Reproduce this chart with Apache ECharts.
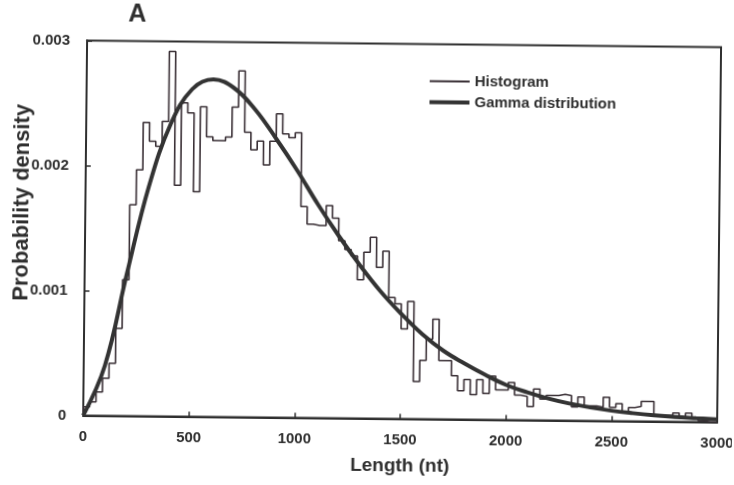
<!DOCTYPE html>
<html>
<head>
<meta charset="utf-8">
<script src="https://cdn.jsdelivr.net/npm/echarts@6/dist/echarts.min.js"></script>
<style>
  html, body { margin: 0; padding: 0; background: #ffffff; }
  #chart { width: 734px; height: 485px; transform: rotate(0.6deg); transform-origin: 50% 50%; }
</style>
</head>
<body>
<div id="chart"></div>
<script>
// Read-length histogram (probability density per 30-nt bin, starting at 0 nt)
const binWidth = 30;
const histogramDensity = [
  0.00007, 0.00011, 0.00019, 0.00030, 0.00042, 0.00070, 0.00109, 0.00169, 0.00197, 0.00235,
  0.00220, 0.00216, 0.00236, 0.00292, 0.00185, 0.00251, 0.00243, 0.00180, 0.00248, 0.00224,
  0.00221, 0.00221, 0.00224, 0.00248, 0.00277, 0.00228, 0.00214, 0.00221, 0.00202, 0.00221,
  0.00243, 0.00227, 0.00224, 0.00228, 0.00169, 0.00155, 0.00154, 0.00154, 0.00170, 0.00160,
  0.00142, 0.00135, 0.00130, 0.00111, 0.00133, 0.00145, 0.00121, 0.00134, 0.00097, 0.00092,
  0.00072, 0.00094, 0.00030, 0.00047, 0.00064, 0.00080, 0.00047, 0.00047, 0.00035, 0.00023,
  0.00032, 0.00020, 0.00032, 0.00021, 0.00035, 0.00024, 0.00024, 0.00030, 0.00020, 0.00019,
  0.00011, 0.00025, 0.00017, 0.00020, 0.00020, 0.00021, 0.00020, 0.00011, 0.00019, 0.00012,
  0.00012, 0.00011, 0.00019, 0.00011, 0.00014, 0.00007, 0.00011, 0.00012, 0.00016, 0.00016,
  0.00005, 0.00005, 0.00005, 0.00007, 0.00003, 0.00007, 0.00003, 0.00001, 0, 0
];

// Fitted gamma distribution, sampled along the length axis
const gammaLength = [
  0, 100, 200, 300, 400, 500, 600, 700, 800, 900, 1000, 1100, 1200, 1300, 1400, 1500,
  1600, 1700, 1800, 1900, 2000, 2100, 2200, 2300, 2400, 2500, 2600, 2700, 2800, 2900, 3000
];
const gammaDensity = [
  0, 0.00040, 0.00114, 0.00184, 0.00234, 0.00262, 0.00270, 0.00263, 0.00246, 0.00223,
  0.00198, 0.00171, 0.00146, 0.00123, 0.00102, 0.00084, 0.00068, 0.00055, 0.00045, 0.00036,
  0.00028, 0.000223, 0.000175, 0.000137, 0.000107, 0.000083, 0.000065, 0.00005, 0.000038,
  0.00003, 0.000023
];

const xTicks = [0, 500, 1000, 1500, 2000, 2500, 3000];
const yTicks = [0, 0.001, 0.002, 0.003];

// Step outline of the histogram: each bin drawn flat from its left edge
const histPoints = [[0, 0]];
histogramDensity.forEach((v, i) => histPoints.push([i * binWidth, v]));
histPoints.push([histogramDensity.length * binWidth, 0]);

const gammaPoints = gammaLength.map((x, i) => [x, gammaDensity[i]]);

const ink = '#2f2f2f';
const histInk = '#3a3036';
const font = '"Liberation Sans", Arial, Helvetica, sans-serif';
const legendText = { fontFamily: font, fontWeight: 'bold', fontSize: 15, color: ink };

const chart = echarts.init(document.getElementById('chart'), null, { renderer: 'canvas' });
chart.setOption({
  backgroundColor: '#ffffff',
  animation: false,
  grid: {
    left: 85, right: 15, top: 43.5, bottom: 66.5,
    outerBoundsMode: 'none',
    show: true, borderColor: ink, borderWidth: 2, backgroundColor: 'transparent'
  },
  graphic: [
    {
      type: 'text', left: 126, top: 5,
      style: { text: 'A', font: 'bold 25px ' + font, fill: ink }
    },
    {
      type: 'text', x: 22, y: 206, rotation: Math.PI / 2,
      style: {
        text: 'Probability density', font: 'bold 22px ' + font, fill: ink,
        align: 'center', verticalAlign: 'middle'
      }
    }
  ],
  legend: [
    {
      left: 428, top: 73, padding: 0, icon: 'rect', itemWidth: 40, itemHeight: 2, itemGap: 6,
      textStyle: legendText, data: [{ name: 'Histogram', itemStyle: { color: histInk } }]
    },
    {
      left: 428, top: 94, padding: 0, icon: 'rect', itemWidth: 40, itemHeight: 4, itemGap: 6,
      textStyle: legendText, data: [{ name: 'Gamma distribution', itemStyle: { color: '#333333' } }]
    }
  ],
  xAxis: {
    type: 'value', min: xTicks[0], max: xTicks[xTicks.length - 1], interval: 500,
    name: 'Length (nt)', nameLocation: 'middle', nameGap: 38,
    nameTextStyle: { fontFamily: font, fontWeight: 'bold', fontSize: 19, color: ink },
    axisLine: { show: true, lineStyle: { color: ink, width: 2 } },
    axisTick: { show: true, inside: true, length: 5, lineStyle: { color: ink, width: 1.5 } },
    axisLabel: {
      margin: 14, fontFamily: font, fontWeight: 'bold', fontSize: 15, color: ink,
      formatter: v => String(v)
    },
    splitLine: { show: false }
  },
  yAxis: {
    type: 'value', min: yTicks[0], max: yTicks[yTicks.length - 1], interval: 0.001,
    axisLine: { show: true, lineStyle: { color: ink, width: 2 } },
    axisTick: { show: true, inside: true, length: 5, lineStyle: { color: ink, width: 1.5 } },
    axisLabel: {
      margin: 17, fontFamily: font, fontWeight: 'bold', fontSize: 15, color: ink,
      formatter: v => (v === 0 ? '0' : v.toFixed(3))
    },
    splitLine: { show: false }
  },
  series: [
    {
      name: 'Histogram', type: 'line', step: 'end', data: histPoints,
      symbol: 'none', lineStyle: { color: histInk, width: 1.6 }, itemStyle: { color: histInk },
      z: 2
    },
    {
      name: 'Gamma distribution', type: 'line', smooth: 0.4, data: gammaPoints,
      symbol: 'none', lineStyle: { color: '#333333', width: 4 }, itemStyle: { color: '#333333' },
      z: 3
    }
  ]
});
</script>
</body>
</html>
